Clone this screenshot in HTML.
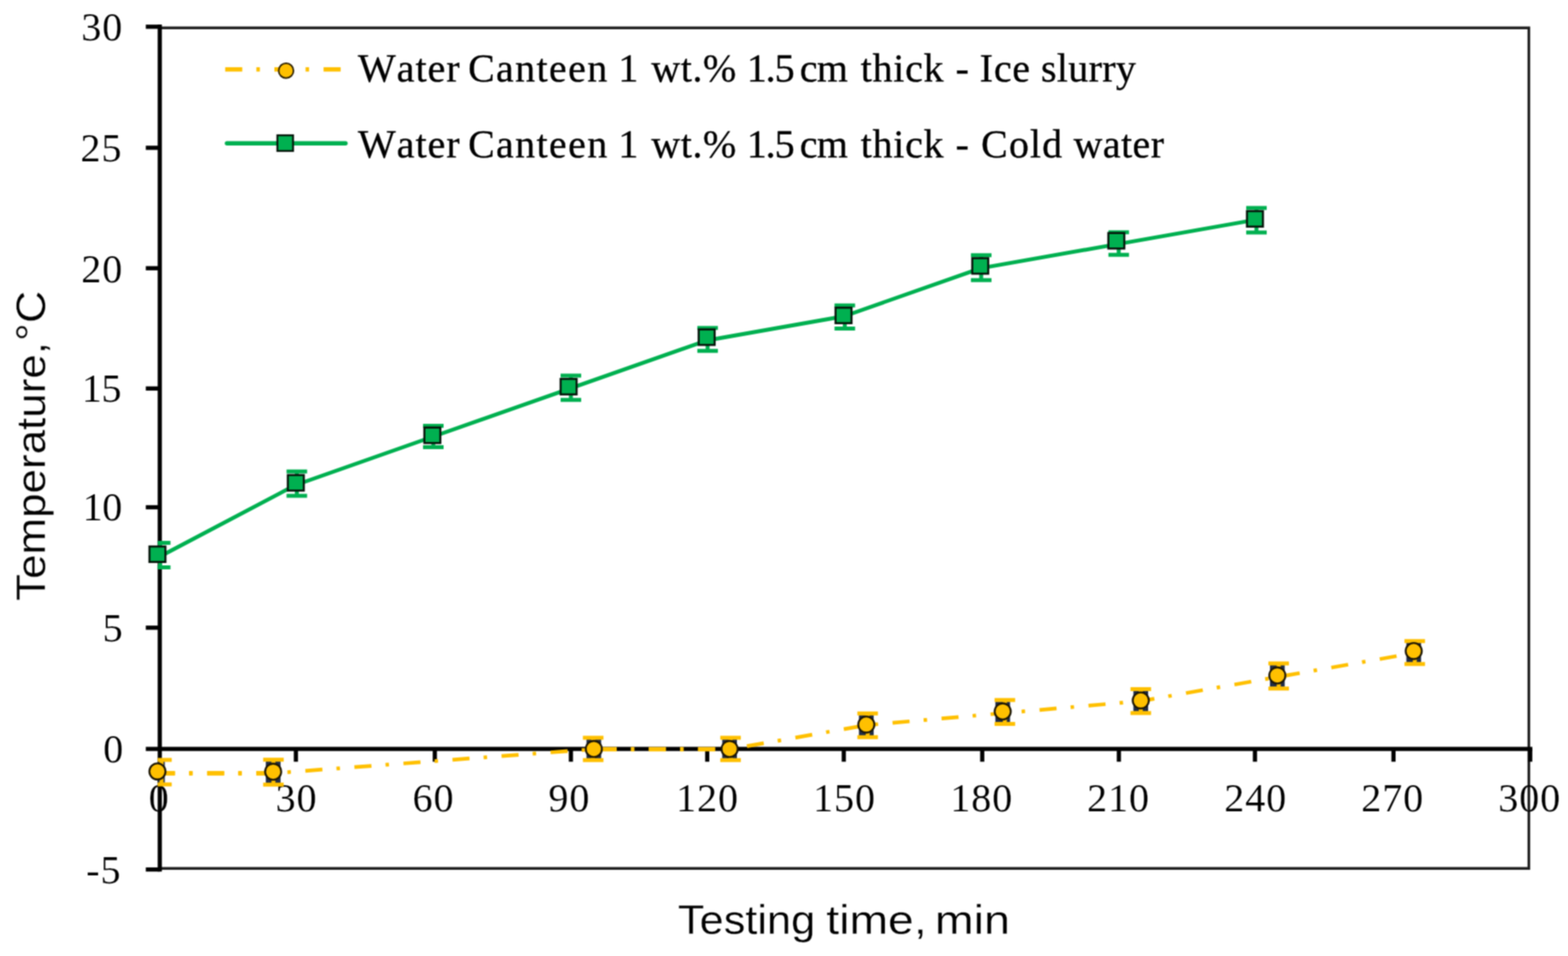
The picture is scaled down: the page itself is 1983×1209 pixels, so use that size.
<!DOCTYPE html>
<html lang="en"><head><meta charset="utf-8"><title>Temperature vs testing time</title>
<style>html,body{margin:0;padding:0;background:#fff;}body{width:1983px;height:1209px;overflow:hidden;}svg{display:block;}.s{font-family:"Liberation Serif","DejaVu Serif",serif;fill:#000;}.l{stroke:#000;stroke-width:0.4px;stroke-linejoin:round;font-kerning:none;}.t{stroke:#fff;stroke-width:0.15px;paint-order:fill stroke;stroke-linejoin:round;}.c{font-family:"Liberation Sans","DejaVu Sans",sans-serif;fill:#000;stroke:#fff;stroke-width:0.3px;paint-order:fill stroke;}</style></head><body>
<svg width="1983" height="1209" viewBox="0 0 1983 1209">
<defs><filter id="soft" x="0" y="0" width="1983" height="1209" filterUnits="userSpaceOnUse" color-interpolation-filters="sRGB"><feConvolveMatrix order="3" kernelMatrix="1 2 1 2 4 2 1 2 1" divisor="16" edgeMode="duplicate" preserveAlpha="false"/></filter>
<clipPath id="plot"><rect x="199.4" y="0" width="1783.6" height="1209"/></clipPath>
<clipPath id="flat"><rect x="199.4" y="960" width="145.9" height="40"/><rect x="749.6" y="930" width="173.3" height="40"/></clipPath></defs>
<rect width="1983" height="1209" fill="#fff"/>
<g filter="url(#soft)">
<path d="M202.05 35.30 H1933.50 V1098.30 H202.05" fill="none" stroke="#1f1f1f" stroke-width="3.40"/>
<g class="s t" font-size="50.8" text-anchor="end" letter-spacing="1.1">
<text x="155.7" y="51.2">30</text>
<text x="154.7" y="204.3">25</text>
<text x="155.7" y="356.6">20</text>
<text x="153.0" y="507.9" letter-spacing="-0.6">15</text>
<text x="154.0" y="658.1" letter-spacing="-0.6">10</text>
<text x="156.3" y="810.9">5</text>
<text x="157.0" y="963.5">0</text>
<text x="153.5" y="1117.0">-5</text>
</g>
<g class="s t" font-size="50.8" text-anchor="middle" letter-spacing="1.1">
<text x="201.3" y="1026.0">0</text>
<text x="375.0" y="1026.0">30</text>
<text x="548.3" y="1026.0">60</text>
<text x="719.9" y="1026.0">90</text>
<text x="894.8" y="1026.0">120</text>
<text x="1068.1" y="1026.0">150</text>
<text x="1241.4" y="1026.0">180</text>
<text x="1414.6" y="1026.0">210</text>
<text x="1587.9" y="1026.0">240</text>
<text x="1761.2" y="1026.0">270</text>
<text x="1934.5" y="1026.0">300</text>
</g>
<g stroke="#000" stroke-width="5.30" fill="none">
<path d="M202.05 31.10 V1102.30"/>
<path d="M184.40 947.10 H1937.90"/>
<path d="M184.40 33.80 H202.05"/>
<path d="M184.40 186.90 H202.05"/>
<path d="M184.40 339.20 H202.05"/>
<path d="M184.40 491.30 H202.05"/>
<path d="M184.40 641.50 H202.05"/>
<path d="M184.40 793.80 H202.05"/>
<path d="M184.40 1099.60 H202.05"/>
<path d="M374.20 947.10 V963.30"/>
<path d="M549.90 947.10 V963.30"/>
<path d="M722.00 947.10 V963.30"/>
<path d="M894.40 947.10 V963.30"/>
<path d="M1067.10 947.10 V963.30"/>
<path d="M1242.20 947.10 V963.30"/>
<path d="M1415.00 947.10 V963.30"/>
<path d="M1587.10 947.10 V963.30"/>
<path d="M1762.30 947.10 V963.30"/>
<path d="M1935.20 947.10 V963.30"/>
</g>
<g clip-path="url(#plot)">
<polyline points="200.9,704.5 374.2,613.2 547.4,552.2 720.7,491.4 894.0,430.5 1067.3,400.0 1240.5,339.1 1413.8,308.7 1587.1,278.2" fill="none" stroke="#00B050" stroke-width="4.9" stroke-linejoin="round"/>
<polyline points="199.4,977.9 345.3,977.9 749.6,947.5 922.9,947.5 1096.1,917.0 1269.4,901.8 1442.7,886.6 1615.9,856.1 1789.2,825.7" fill="none" stroke="#FFC000" stroke-width="4.7" stroke-dasharray="21.6 17.85 4.4 18.35" stroke-dashoffset="-0.3" stroke-linejoin="round"/>
<polyline clip-path="url(#flat)" points="199.4,977.9 345.3,977.9 749.6,947.5 922.9,947.5 1096.1,917.0 1269.4,901.8 1442.7,886.6 1615.9,856.1 1789.2,825.7" fill="none" stroke="#FFC000" stroke-width="5.7" stroke-dasharray="21.6 17.85 4.4 18.35" stroke-dashoffset="-0.3" stroke-linejoin="round"/>
<path d="M202.6 686.6V717.5" stroke="#00B050" stroke-width="5" fill="none"/>
<path d="M189.6 686.6H215.6M189.6 717.5H215.6" stroke="#00B050" stroke-width="5.0" fill="none"/>
<path d="M375.4 596.3V627.1" stroke="#00B050" stroke-width="5" fill="none"/>
<path d="M362.4 596.3H388.4M362.4 627.1H388.4" stroke="#00B050" stroke-width="5.0" fill="none"/>
<path d="M548.0 538.4V565.6" stroke="#00B050" stroke-width="5" fill="none"/>
<path d="M535.0 538.4H561.0M535.0 565.6H561.0" stroke="#00B050" stroke-width="5.0" fill="none"/>
<path d="M722.0 475.1V505.8" stroke="#00B050" stroke-width="5" fill="none"/>
<path d="M709.0 475.1H735.0M709.0 505.8H735.0" stroke="#00B050" stroke-width="5.0" fill="none"/>
<path d="M894.9 414.8V443.8" stroke="#00B050" stroke-width="5" fill="none"/>
<path d="M881.9 414.8H907.9M881.9 443.8H907.9" stroke="#00B050" stroke-width="5.0" fill="none"/>
<path d="M1068.4 386.2V415.6" stroke="#00B050" stroke-width="5" fill="none"/>
<path d="M1055.4 386.2H1081.4M1055.4 415.6H1081.4" stroke="#00B050" stroke-width="5.0" fill="none"/>
<path d="M1240.9 322.8V354.2" stroke="#00B050" stroke-width="5" fill="none"/>
<path d="M1227.9 322.8H1253.9M1227.9 354.2H1253.9" stroke="#00B050" stroke-width="5.0" fill="none"/>
<path d="M1414.8 293.8V322.2" stroke="#00B050" stroke-width="5" fill="none"/>
<path d="M1401.8 293.8H1427.8M1401.8 322.2H1427.8" stroke="#00B050" stroke-width="5.0" fill="none"/>
<path d="M1589.0 262.9V294.0" stroke="#00B050" stroke-width="5" fill="none"/>
<path d="M1576.0 262.9H1602.0M1576.0 294.0H1602.0" stroke="#00B050" stroke-width="5.0" fill="none"/>
<rect x="189.8" y="963.0" width="18.6" height="26.9" fill="#1f2c47"/>
<path d="M204.2 961.0V991.9" stroke="#FFC000" stroke-width="5" fill="none"/>
<path d="M191.2 961.0H217.2M191.2 991.9H217.2" stroke="#FFC000" stroke-width="5.0" fill="none"/>
<rect x="336.2" y="962.8" width="18.6" height="27.5" fill="#1f2c47"/>
<path d="M345.8 960.8V992.3" stroke="#FFC000" stroke-width="5" fill="none"/>
<path d="M332.8 960.8H358.8M332.8 992.3H358.8" stroke="#FFC000" stroke-width="5.0" fill="none"/>
<rect x="741.7" y="935.0" width="18.6" height="24.2" fill="#1f2c47"/>
<path d="M750.2 933.0V961.2" stroke="#FFC000" stroke-width="5" fill="none"/>
<path d="M737.2 933.0H763.2M737.2 961.2H763.2" stroke="#FFC000" stroke-width="5.0" fill="none"/>
<rect x="913.4" y="935.0" width="18.6" height="24.2" fill="#1f2c47"/>
<path d="M923.9 933.0V961.2" stroke="#FFC000" stroke-width="5" fill="none"/>
<path d="M910.9 933.0H936.9M910.9 961.2H936.9" stroke="#FFC000" stroke-width="5.0" fill="none"/>
<rect x="1086.3" y="904.2" width="18.6" height="26.1" fill="#1f2c47"/>
<path d="M1097.3 902.2V932.3" stroke="#FFC000" stroke-width="5" fill="none"/>
<path d="M1084.3 902.2H1110.3M1084.3 932.3H1110.3" stroke="#FFC000" stroke-width="5.0" fill="none"/>
<rect x="1258.8" y="887.3" width="18.6" height="26.2" fill="#1f2c47"/>
<path d="M1270.8 885.3V915.5" stroke="#FFC000" stroke-width="5" fill="none"/>
<path d="M1257.8 885.3H1283.8M1257.8 915.5H1283.8" stroke="#FFC000" stroke-width="5.0" fill="none"/>
<rect x="1433.4" y="873.4" width="18.6" height="26.4" fill="#1f2c47"/>
<path d="M1442.7 871.4V901.8" stroke="#FFC000" stroke-width="5" fill="none"/>
<path d="M1429.7 871.4H1455.7M1429.7 901.8H1455.7" stroke="#FFC000" stroke-width="5.0" fill="none"/>
<rect x="1606.1" y="841.1" width="18.6" height="27.6" fill="#1f2c47"/>
<path d="M1617.1 839.1V870.7" stroke="#FFC000" stroke-width="5" fill="none"/>
<path d="M1604.1 839.1H1630.1M1604.1 870.7H1630.1" stroke="#FFC000" stroke-width="5.0" fill="none"/>
<rect x="1778.6" y="812.8" width="18.6" height="25.0" fill="#1f2c47"/>
<path d="M1789.2 810.8V839.8" stroke="#FFC000" stroke-width="5" fill="none"/>
<path d="M1776.2 810.8H1802.2M1776.2 839.8H1802.2" stroke="#FFC000" stroke-width="5.0" fill="none"/>
</g>
<rect x="189.0" y="691.1" width="20.2" height="19.6" fill="#00B050" stroke="#06140a" stroke-width="2.6"/>
<rect x="364.0" y="600.8" width="20.2" height="19.6" fill="#00B050" stroke="#06140a" stroke-width="2.6"/>
<rect x="536.7" y="540.7" width="20.2" height="19.6" fill="#00B050" stroke="#06140a" stroke-width="2.6"/>
<rect x="709.0" y="479.2" width="20.2" height="19.6" fill="#00B050" stroke="#06140a" stroke-width="2.6"/>
<rect x="883.6" y="416.6" width="20.2" height="19.6" fill="#00B050" stroke="#06140a" stroke-width="2.6"/>
<rect x="1056.7" y="389.1" width="20.2" height="19.6" fill="#00B050" stroke="#06140a" stroke-width="2.6"/>
<rect x="1229.6" y="326.5" width="20.2" height="19.6" fill="#00B050" stroke="#06140a" stroke-width="2.6"/>
<rect x="1401.7" y="294.7" width="20.2" height="19.6" fill="#00B050" stroke="#06140a" stroke-width="2.6"/>
<rect x="1577.0" y="267.0" width="20.2" height="19.6" fill="#00B050" stroke="#06140a" stroke-width="2.6"/>
<circle cx="199.1" cy="975.6" r="10.2" fill="#FFC000" stroke="#1c1605" stroke-width="2.4"/>
<circle cx="345.5" cy="975.9" r="10.2" fill="#FFC000" stroke="#1c1605" stroke-width="2.4"/>
<circle cx="751.0" cy="947.2" r="10.2" fill="#FFC000" stroke="#1c1605" stroke-width="2.4"/>
<circle cx="922.7" cy="947.2" r="10.2" fill="#FFC000" stroke="#1c1605" stroke-width="2.4"/>
<circle cx="1095.6" cy="916.3" r="10.2" fill="#FFC000" stroke="#1c1605" stroke-width="2.4"/>
<circle cx="1268.1" cy="899.7" r="10.2" fill="#FFC000" stroke="#1c1605" stroke-width="2.4"/>
<circle cx="1442.7" cy="885.8" r="10.2" fill="#FFC000" stroke="#1c1605" stroke-width="2.4"/>
<circle cx="1615.4" cy="854.2" r="10.2" fill="#FFC000" stroke="#1c1605" stroke-width="2.4"/>
<circle cx="1787.9" cy="823.3" r="10.2" fill="#FFC000" stroke="#1c1605" stroke-width="2.4"/>
<path d="M284.5 87.8H431" stroke="#FFC000" stroke-width="5.4" stroke-dasharray="21.6 17.85 4.4 18.35" stroke-dashoffset="-0.3" fill="none"/>
<circle cx="361.8" cy="89.4" r="9.4" fill="#FFC000" stroke="#2a1e00" stroke-width="2.0"/>
<path d="M287 181.2H437" stroke="#00B050" stroke-width="5.4" fill="none" stroke-linecap="round"/>
<rect x="350.8" y="171.1" width="19.8" height="19.8" fill="#00B050" stroke="#06140a" stroke-width="2.4"/>
<text class="s l" font-size="50.5" y="103.3">
<tspan x="452.80" letter-spacing="1.31">Water</tspan> <tspan x="591.90" letter-spacing="1.76">Canteen</tspan> <tspan x="782.00" letter-spacing="0.00">1</tspan> <tspan x="823.80" letter-spacing="0.73">wt.%</tspan> <tspan x="944.40" letter-spacing="-1.27">1.5</tspan> <tspan x="1011.40" letter-spacing="-0.70">cm</tspan> <tspan x="1088.50" letter-spacing="0.97">thick</tspan> <tspan x="1208.50" letter-spacing="0.00">-</tspan> <tspan x="1239.05" letter-spacing="1.02">Ice</tspan> <tspan x="1316.50" letter-spacing="0.46">slurry</tspan>
</text>
<text class="s l" font-size="50.5" y="199.3">
<tspan x="452.80" letter-spacing="1.31">Water</tspan> <tspan x="591.90" letter-spacing="1.76">Canteen</tspan> <tspan x="782.00" letter-spacing="0.00">1</tspan> <tspan x="823.80" letter-spacing="0.73">wt.%</tspan> <tspan x="944.40" letter-spacing="-1.27">1.5</tspan> <tspan x="1011.40" letter-spacing="-0.70">cm</tspan> <tspan x="1088.50" letter-spacing="0.97">thick</tspan> <tspan x="1208.50" letter-spacing="0.00">-</tspan> <tspan x="1240.80" letter-spacing="1.40">Cold</tspan> <tspan x="1357.80" letter-spacing="0.51">water</tspan>
</text>
<text class="c" font-size="52.5" y="1181.2"><tspan x="857.30" textLength="173.61" lengthAdjust="spacingAndGlyphs">Testing</tspan> <tspan x="1044.96" textLength="126.97" lengthAdjust="spacingAndGlyphs">time,</tspan> <tspan x="1182.27" textLength="94.89" lengthAdjust="spacingAndGlyphs">min</tspan></text>
<text class="c" font-size="52.5" transform="translate(57.0 759.1) rotate(-90)" y="0"><tspan x="-0.82" textLength="327.32" lengthAdjust="spacingAndGlyphs">Temperature,</tspan> <tspan x="327.79" textLength="63.55" lengthAdjust="spacingAndGlyphs">°C</tspan></text>
</g>
</svg></body></html>
